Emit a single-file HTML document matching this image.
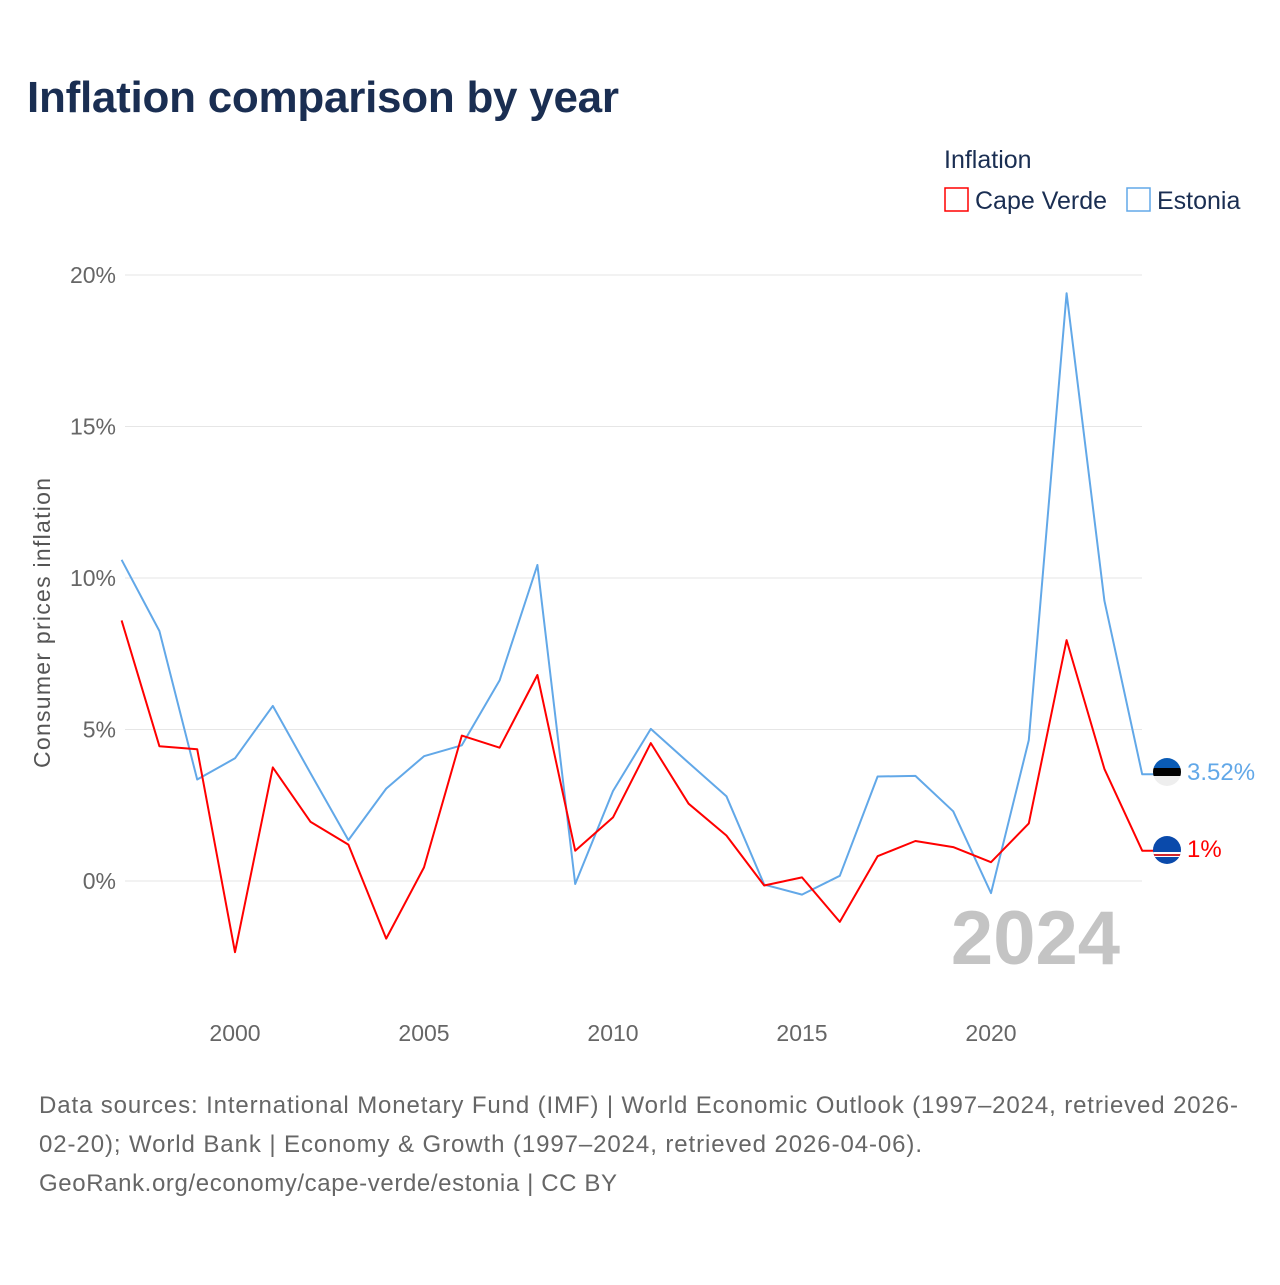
<!DOCTYPE html>
<html><head><meta charset="utf-8"><style>
body{margin:0;background:#fff;font-family:"Liberation Sans",sans-serif;}
</style></head><body>
<svg width="1280" height="1280" xmlns="http://www.w3.org/2000/svg" font-family="Liberation Sans, sans-serif">
<text x="27" y="112" font-size="44" font-weight="bold" fill="#1a2e52" textLength="592">Inflation comparison by year</text>
<text x="944" y="168" font-size="25" fill="#1a2e52">Inflation</text>
<g><rect x="945" y="188" width="23" height="23" fill="none" stroke="#ff0000" stroke-width="1.5"/><text x="975" y="209" font-size="25" fill="#1a2e52">Cape Verde</text></g>
<g><rect x="1127" y="188" width="23" height="23" fill="none" stroke="#62a8e8" stroke-width="1.5"/><text x="1157" y="209" font-size="25" fill="#1a2e52">Estonia</text></g>
<g id="grid"></g>
<g id="yticks"></g>
<g id="xticks"></g>
<text transform="translate(50,623) rotate(-90)" text-anchor="middle" font-size="23" fill="#555" textLength="290">Consumer prices inflation</text>
<text x="1120" y="964" text-anchor="end" font-size="76" font-weight="bold" fill="#c4c4c4">2024</text>
<g id="series"></g>
<defs><clipPath id="c1"><circle cx="1167" cy="772" r="14"/></clipPath><clipPath id="c2"><circle cx="1167" cy="850" r="14"/></clipPath></defs>
<g clip-path="url(#c1)"><rect x="1150" y="755" width="34" height="13" fill="#0a5bb5"/><rect x="1150" y="768" width="34" height="8" fill="#000"/><rect x="1150" y="776" width="34" height="13" fill="#eee"/></g>
<g clip-path="url(#c2)"><rect x="1150" y="833" width="34" height="34" fill="#0a4aab"/><rect x="1150" y="852" width="34" height="5" fill="#fff"/><rect x="1150" y="854" width="34" height="2" fill="#d0262e"/></g>
<text x="1187" y="780" font-size="24" fill="#62a8e8">3.52%</text>
<text x="1187" y="857" font-size="24" fill="#ff0000">1%</text>
<g font-size="24" fill="#666">
<text x="39" y="1113" textLength="1199">Data sources: International Monetary Fund (IMF) | World Economic Outlook (1997–2024, retrieved 2026-</text>
<text x="39" y="1152" textLength="883">02-20); World Bank | Economy &amp; Growth (1997–2024, retrieved 2026-04-06).</text>
<text x="39" y="1191" textLength="578">GeoRank.org/economy/cape-verde/estonia | CC BY</text>
</g>
</svg>
<script>
const years=[1997,1998,1999,2000,2001,2002,2003,2004,2005,2006,2007,2008,2009,2010,2011,2012,2013,2014,2015,2016,2017,2018,2019,2020,2021,2022,2023,2024];
const capeVerde=[8.6,4.45,4.35,-2.35,3.75,1.95,1.2,-1.9,0.45,4.8,4.4,6.8,1.0,2.1,4.55,2.55,1.5,-0.15,0.12,-1.35,0.82,1.32,1.12,0.62,1.9,7.95,3.7,1.0];
const estonia=[10.6,8.25,3.35,4.05,5.78,3.55,1.35,3.05,4.12,4.48,6.62,10.43,-0.1,2.97,5.02,3.9,2.8,-0.12,-0.45,0.17,3.45,3.47,2.3,-0.4,4.65,19.4,9.25,3.52];
const yTicks=[0,5,10,15,20];
const xTicks=[2000,2005,2010,2015,2020];
const NS="http://www.w3.org/2000/svg";
const xs=y=>121.6+(y-1997)*37.8;
const ys=v=>881-v*30.3;
function mk(t,a,p){const e=document.createElementNS(NS,t);for(const k in a)e.setAttribute(k,a[k]);p.appendChild(e);return e;}
const grid=document.getElementById('grid'),yt=document.getElementById('yticks'),xt=document.getElementById('xticks'),ser=document.getElementById('series');
yTicks.forEach(v=>{
 const l=mk('line',{x1:125,x2:1142,y1:ys(v),y2:ys(v),stroke:'#e6e6e6','stroke-width':1},grid);
 
 
 const t=mk('text',{x:116,y:ys(v)+8,'text-anchor':'end','font-size':23,fill:'#666'},yt);
 t.textContent=v+'%';
 
 
});
xTicks.forEach(v=>{
 const t=mk('text',{x:xs(v),y:1041,'text-anchor':'middle','font-size':23,fill:'#666'},xt);
 t.textContent=v;
 
 
});
function line(vals,color,name){
 let d=vals.map((v,i)=>(i?'L':'M')+xs(years[i]).toFixed(1)+' '+ys(v).toFixed(1)).join(' ');
 d+=' L'+(xs(years[years.length-1])+16).toFixed(1)+' '+ys(vals[vals.length-1]).toFixed(1);
 const p=mk('path',{d:d,fill:'none',stroke:color,'stroke-width':2,'stroke-linejoin':'round'},ser);
 
 
}
line(estonia,'#62a8e8','estonia-line');
line(capeVerde,'#ff0000','cape-verde-line');
</script>
</body></html>
